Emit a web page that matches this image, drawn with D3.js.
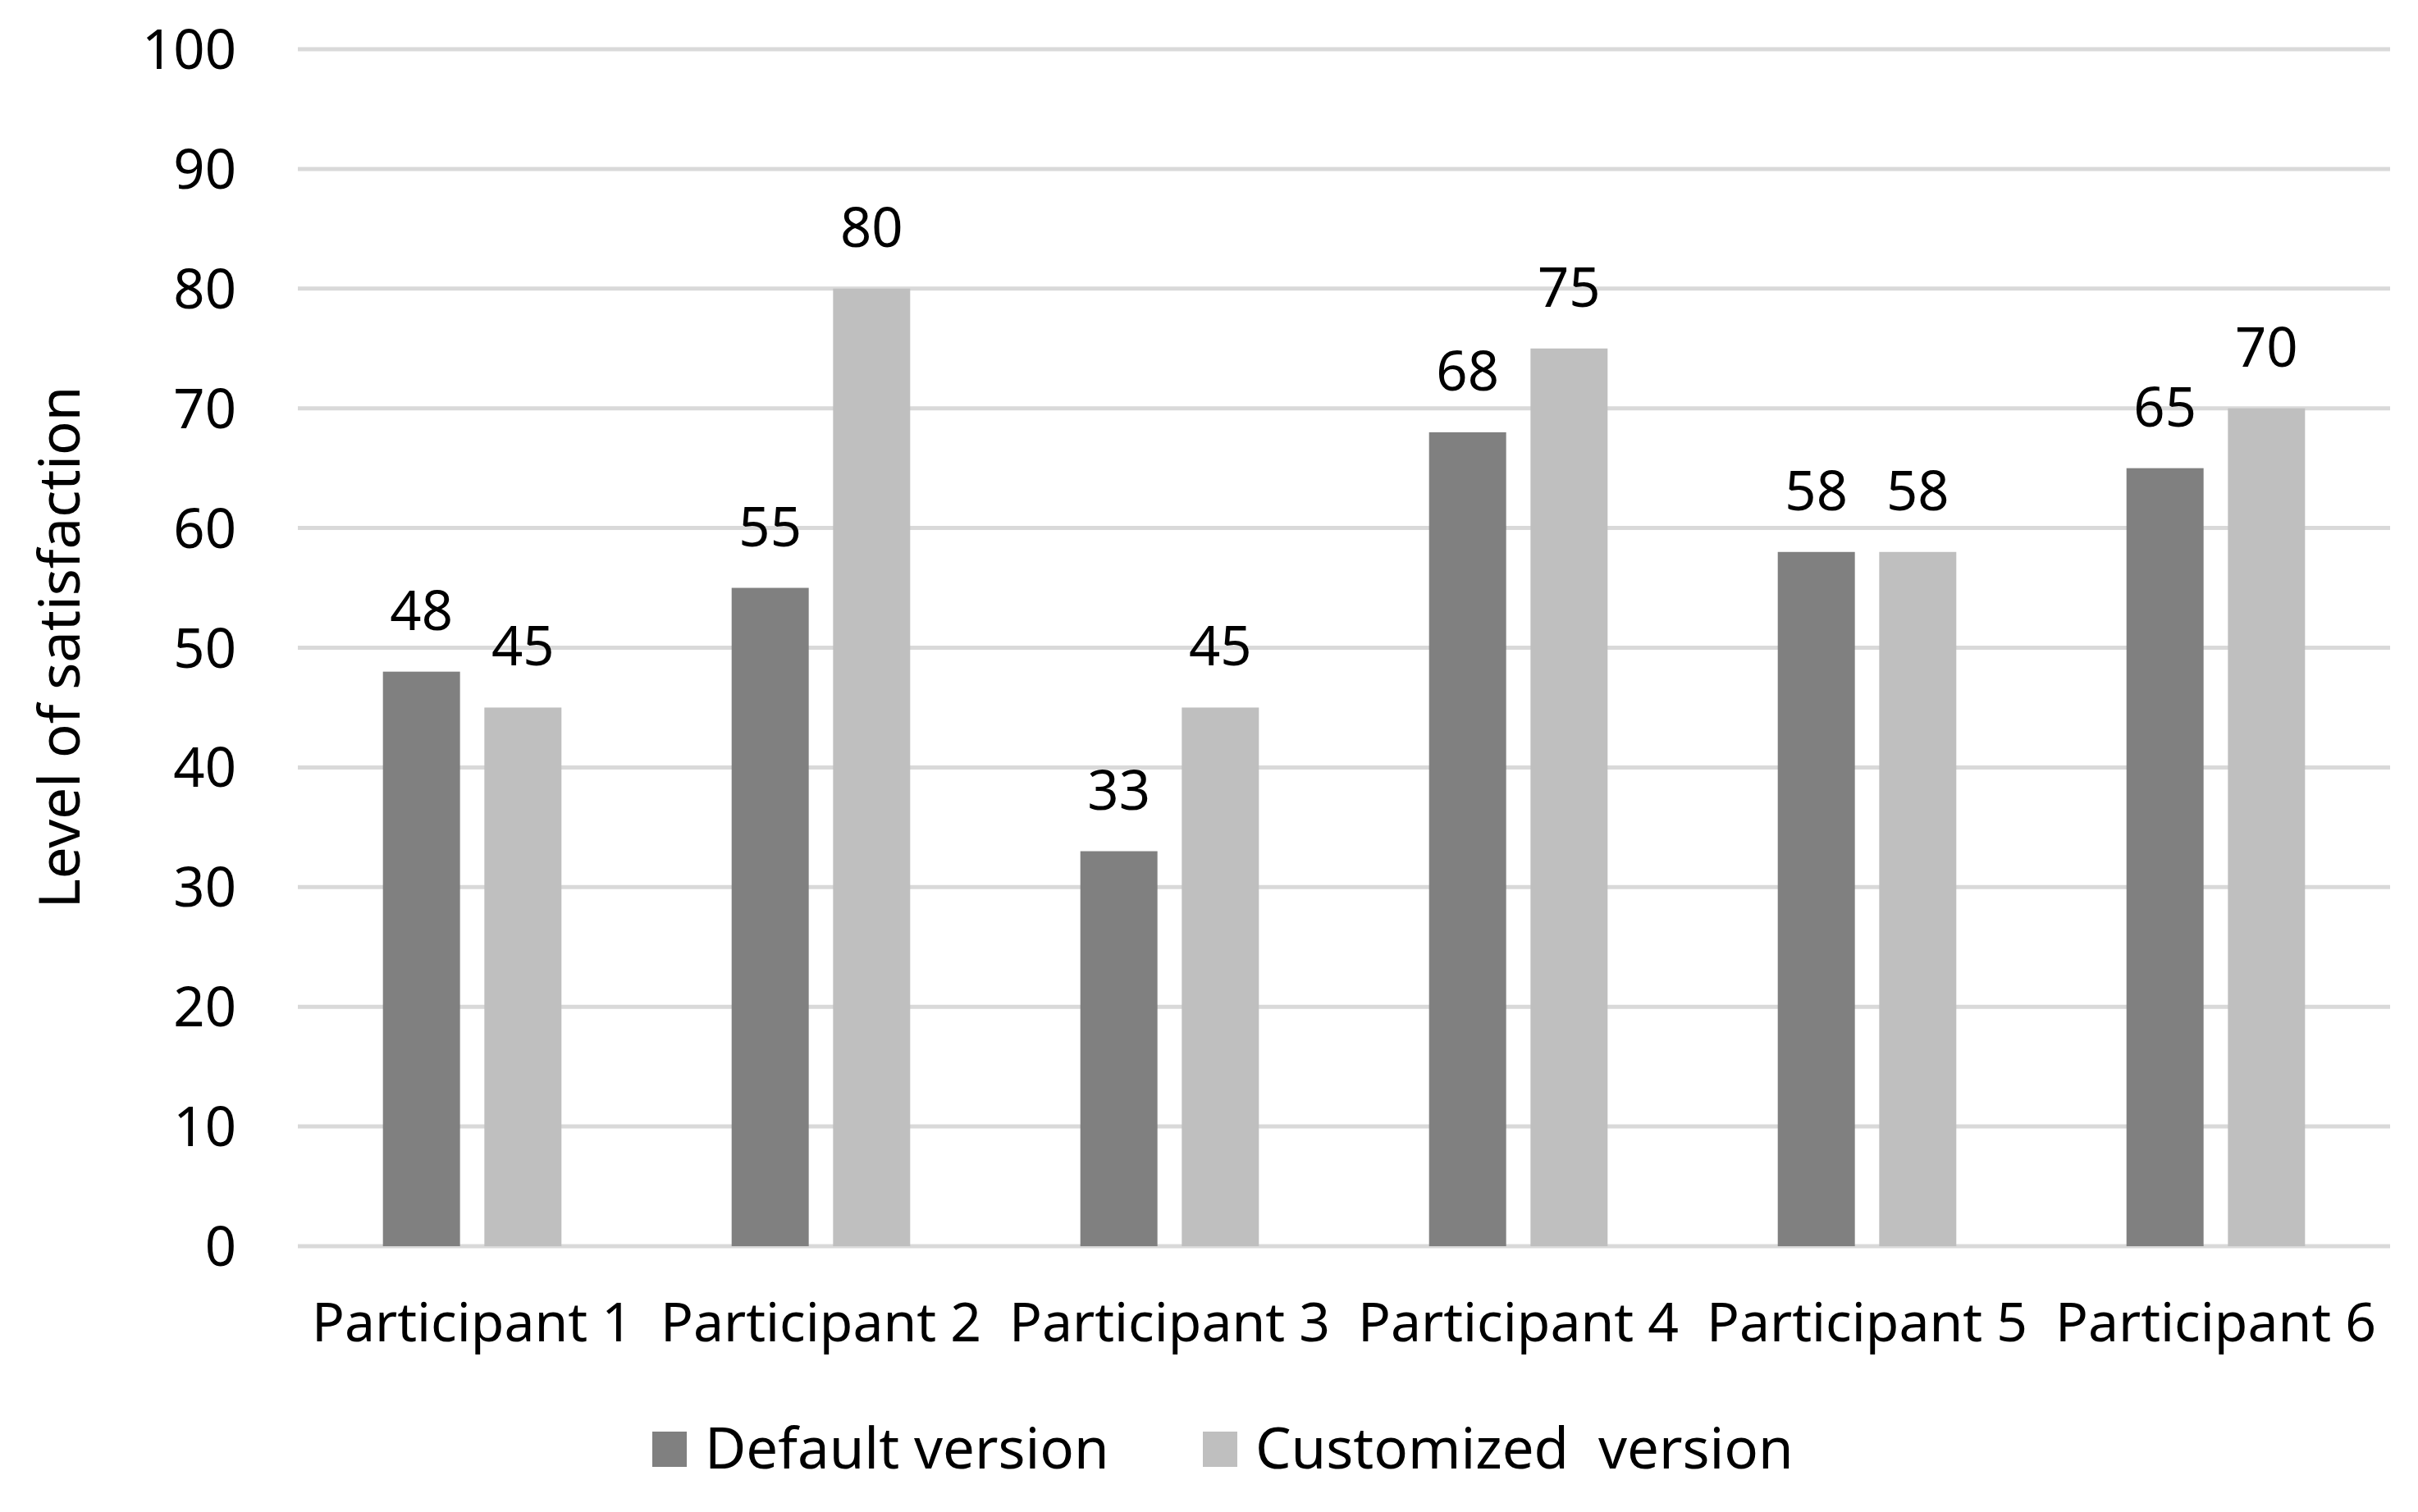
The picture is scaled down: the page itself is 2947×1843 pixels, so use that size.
<!DOCTYPE html>
<html>
<head>
<meta charset="utf-8">
<script src="https://cdn.jsdelivr.net/npm/d3@7"></script>
<style>
  html, body { margin: 0; padding: 0; background: #fff; overflow: hidden; }
  svg { display: block; }
  text { font-family: 'Noto Sans', 'Open Sans', sans-serif; fill: #000; }
</style>
</head>
<body>
<div id="chart"></div>
<script>
const participants = ['Participant 1', 'Participant 2', 'Participant 3', 'Participant 4', 'Participant 5', 'Participant 6']
const seriesNames = ['Default version', 'Customized  version']
const defaultValues = [48, 55, 33, 68, 58, 65]
const customizedValues = [45, 80, 45, 75, 58, 70]
const yTicks = [0, 10, 20, 30, 40, 50, 60, 70, 80, 90, 100]
const colors = ['#808080', '#bfbfbf']

const width = 2947
const height = 1843
const margin = { top: 60, right: 34, bottom: 324, left: 363 }
const innerWidth = width - margin.left - margin.right
const innerHeight = height - margin.top - margin.bottom
const fontSize = 67

const rows = participants.map(function (p, i) {
  return { name: p, values: [defaultValues[i], customizedValues[i]] }
})

const svg = d3.select('#chart').append('svg')
  .attr('width', width)
  .attr('height', height)

const g = svg.append('g')
  .attr('transform', 'translate(' + margin.left + ',' + margin.top + ')')

const y = d3.scaleLinear().domain([0, 100]).range([innerHeight, 0])

const x0 = d3.scaleBand().domain(participants).range([0, innerWidth]).padding(0)

// the two bars sit in the middle half of each category band
const bw = x0.bandwidth()
const x1 = d3.scaleBand().domain([0, 1])
  .range([bw * 0.244, bw * 0.756])
  .paddingInner(0.24)

// gridlines
g.append('g')
  .selectAll('line')
  .data(yTicks)
  .enter()
  .append('line')
  .attr('x1', 0)
  .attr('x2', innerWidth)
  .attr('y1', function (d) { return y(d) })
  .attr('y2', function (d) { return y(d) })
  .attr('stroke', '#d9d9d9')
  .attr('stroke-width', 5)

// y tick labels
g.append('g')
  .selectAll('text')
  .data(yTicks)
  .enter()
  .append('text')
  .attr('x', -75)
  .attr('y', function (d) { return y(d) + 24 })
  .attr('text-anchor', 'end')
  .attr('font-size', fontSize)
  .text(function (d) { return d })

// x axis labels
const xAxis = g.append('g')
  .attr('transform', 'translate(0,' + innerHeight + ')')
  .call(d3.axisBottom(x0).tickSize(0).tickPadding(0))
xAxis.select('.domain').remove()
xAxis.selectAll('text')
  .attr('dy', null)
  .attr('y', 116)
  .attr('font-size', 66)
  .attr('font-family', "'Noto Sans', sans-serif")
  .attr('fill', '#000')

// bars
const groups = g.selectAll('.group')
  .data(rows)
  .enter()
  .append('g')
  .attr('class', 'group')
  .attr('transform', function (d) { return 'translate(' + x0(d.name) + ',0)' })

groups.selectAll('rect')
  .data(function (d) { return d.values })
  .enter()
  .append('rect')
  .attr('x', function (d, i) { return x1(i) })
  .attr('y', function (d) { return y(d) })
  .attr('width', x1.bandwidth())
  .attr('height', function (d) { return innerHeight - y(d) })
  .attr('fill', function (d, i) { return colors[i] })

// value labels
groups.selectAll('text.value')
  .data(function (d) { return d.values })
  .enter()
  .append('text')
  .attr('class', 'value')
  .attr('x', function (d, i) { return x1(i) + x1.bandwidth() / 2 })
  .attr('y', function (d) { return y(d) - 51 })
  .attr('text-anchor', 'middle')
  .attr('font-size', fontSize)
  .text(function (d) { return d })

// y axis title
svg.append('text')
  .attr('transform', 'translate(97,' + 789 + ') rotate(-90)')
  .attr('text-anchor', 'middle')
  .attr('font-size', 69)
  .text('Level of satisfaction')

// legend
const legendX = [795, 1466]
const legend = svg.append('g')
  .selectAll('g')
  .data(seriesNames)
  .enter()
  .append('g')
  .attr('transform', function (d, i) { return 'translate(' + legendX[i] + ',1745)' })

legend.append('rect')
  .attr('width', 42)
  .attr('height', 43)
  .attr('fill', function (d, i) { return colors[i] })

legend.append('text')
  .attr('x', 64)
  .attr('y', 45)
  .attr('font-size', 69)
  .attr('xml:space', 'preserve')
  .style('white-space', 'pre')
  .text(function (d) { return d })
</script>
</body>
</html>
